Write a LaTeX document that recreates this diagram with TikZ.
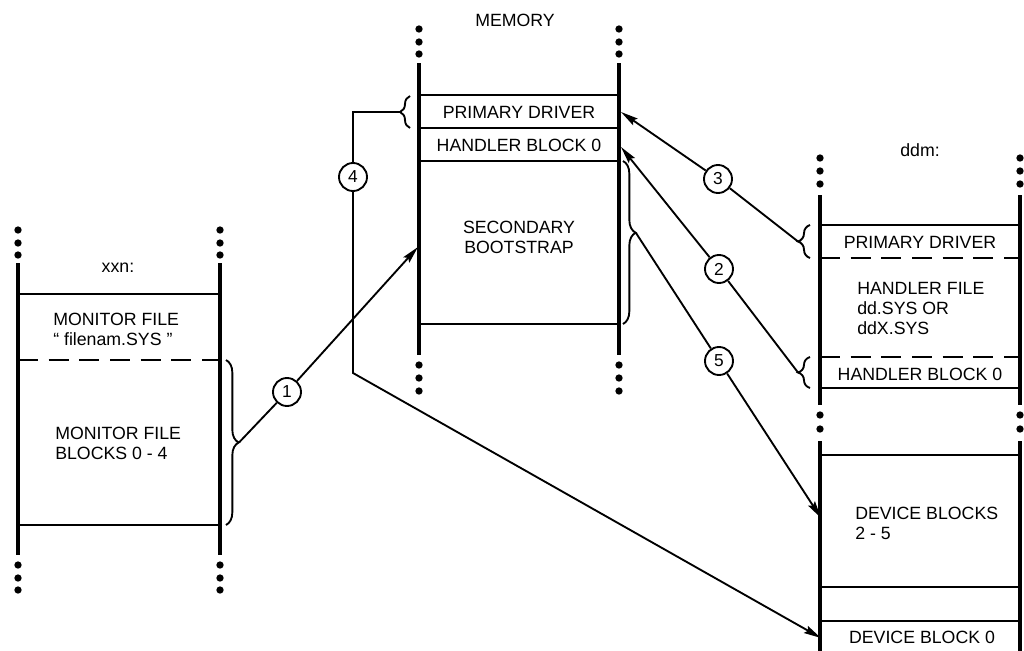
\documentclass[tikz,border=0pt]{standalone}
\usepackage{fontspec}
\setmainfont{Liberation Sans}
\usetikzlibrary{decorations.pathreplacing,arrows.meta}
\begin{document}
\begin{tikzpicture}[x=0.75pt,y=-0.75pt,
 col/.style={line width=2.8pt},
 hl/.style={line width=2pt},
 dl/.style={line width=2pt, dash pattern=on 15pt off 8pt},
 conn/.style={line width=1.4pt},
 arr/.style={conn,-{Stealth[length=13pt,width=6pt,inset=2pt]}},
 num/.style={circle,draw,line width=1.4pt,minimum size=21pt,inner sep=0pt,font=\fontsize{13}{15}\selectfont},
 txt/.style={font=\fontsize{13.3}{15}\selectfont, inner sep=0pt},
 dot/.style={circle,fill,inner sep=0pt,minimum size=5.5pt},
 br/.style={line width=1.4pt,decorate,decoration={brace,amplitude=#1}},
 br/.default=9pt
]
\useasboundingbox (0,0) rectangle (1024,650);

% ---------------- xxn column ----------------
\foreach \y in {230,243,255,565,578,590} {\node[dot] at (18,\y) {}; \node[dot] at (220,\y) {};}
\draw[col] (18,263) -- (18,555);
\draw[col] (220,263) -- (220,555);
\draw[hl] (18,294) -- (220,294);
\draw[dl] (18,360) -- (220,360);
\draw[hl] (18,525) -- (220,525);
\node[txt] (xxn) at (118,268) {xxn:};
\node[txt,align=left,anchor=west] (mf) at (53,329) {MONITOR FILE\\“ filenam.SYS ”};
\node[txt,align=left,anchor=west] (mfb) at (55,443) {MONITOR FILE\\BLOCKS 0 - 4};

% ---------------- memory column ----------------
\foreach \y in {29,42,54,365,378,391} {\node[dot] at (419,\y) {}; \node[dot] at (619,\y) {};}
\draw[col] (419,63) -- (419,355);
\draw[col] (619,63) -- (619,355);
\foreach \y in {95,128,161,324} {\draw[hl] (419,\y) -- (619,\y);}
\node[txt] (mem) at (515,20) {MEMORY};
\node[txt] (mpd) at (519,112) {PRIMARY DRIVER};
\node[txt] (mhb) at (519,145) {HANDLER BLOCK 0};
\node[txt,align=center] (msb) at (519,237) {SECONDARY\\BOOTSTRAP};

% ---------------- ddm column ----------------
\foreach \y in {158,171,184,415,429} {\node[dot] at (820,\y) {}; \node[dot] at (1020,\y) {};}
\draw[col] (820,195) -- (820,405);
\draw[col] (1020,195) -- (1020,405);
\draw[col] (820,441) -- (820,652);
\draw[col] (1020,441) -- (1020,652);
\draw[hl] (820,225) -- (1020,225);
\draw[dl] (820,258) -- (1020,258);
\draw[dl] (820,357) -- (1020,357);
\foreach \y in {388,455,587,621} {\draw[hl] (820,\y) -- (1020,\y);}
\node[txt] (ddm) at (920,150) {ddm:};
\node[txt] (dpd) at (920,242) {PRIMARY DRIVER};
\node[txt,align=left,anchor=west] (dhf) at (857,308) {HANDLER FILE\\dd.SYS OR\\ddX.SYS};
\node[txt] (dhb) at (920,374) {HANDLER BLOCK 0};
\node[txt,align=left,anchor=west] (ddb) at (855,523) {DEVICE BLOCKS\\2 - 5};
\node[txt] (db0) at (922,637) {DEVICE BLOCK 0};

% ---------------- braces ----------------
\draw[br=9.5pt] (226,360) -- (226,525);
\coordinate (t1) at (239,442.5);
\draw[br=7.5pt] (410,128) -- (410,96);
\coordinate (t4) at (400,112);
\draw[br=9.5pt,decoration={aspect=0.44}] (623,161) -- (623,324);
\coordinate (t5) at (636,233);
\draw[br=9pt] (810,258) -- (810,225);
\coordinate (t3) at (798,241.5);
\draw[br=9pt] (810,388) -- (810,357);
\coordinate (t2) at (798,372.5);

% ---------------- numbered circles ----------------
\node[num] (n1) at (287,392) {1};
\node[num] (n4) at (353,177) {4};
\node[num] (n3) at (718,179) {3};
\node[num] (n2) at (719,269) {2};
\node[num] (n5) at (719,361) {5};

% ---------------- connectors ----------------
\coordinate (a1) at (418,247);
\coordinate (a3) at (621,112);
\coordinate (a2) at (621,147);
\coordinate (a5) at (821,518);
\coordinate (a4) at (821,638);
\coordinate (k4a) at (353,112);
\coordinate (k4b) at (353,373);

\draw[conn] (t1) -- (n1);
\draw[arr] (n1) -- (a1);
\draw[conn] (t4) -- (k4a) -- (n4);
\draw[arr] (n4) -- (k4b) -- (a4);
\draw[conn] (t3) -- (n3);
\draw[arr] (n3) -- (a3);
\draw[conn] (t2) -- (n2);
\draw[arr] (n2) -- (a2);
\draw[conn] (t5) -- (n5);
\draw[arr] (n5) -- (a5);
\end{tikzpicture}
\end{document}
